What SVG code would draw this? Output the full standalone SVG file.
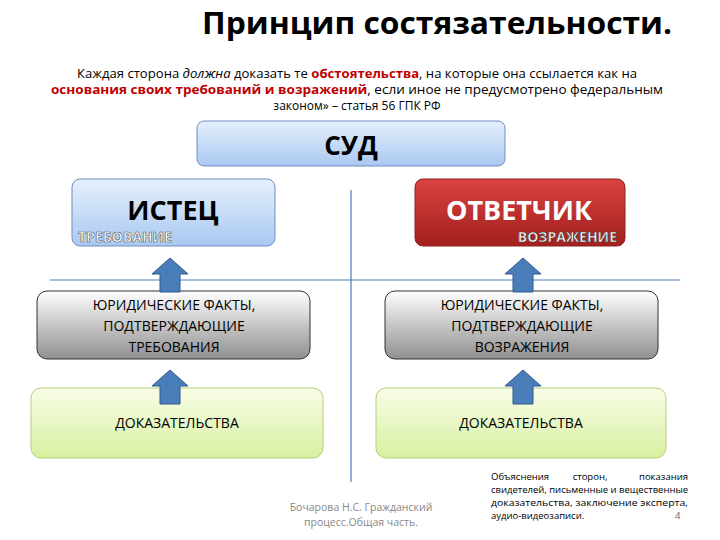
<svg xmlns="http://www.w3.org/2000/svg" width="720" height="540" viewBox="0 0 720 540">
<style>
text{font-family:"Open Sans","Noto Sans","Liberation Sans",sans-serif;fill:#000}
.box{font-size:14px;text-anchor:middle}
.red{fill:#c00000;font-weight:bold}
.ln{stroke:#4a7ebb;stroke-width:1.2}
.arr{fill:#4a7ebb;stroke:#2f5a8f;stroke-width:1}
</style>
<defs>
<linearGradient id="gb" x1="0" y1="0" x2="0" y2="1"><stop offset="0" stop-color="#e6f0fc"/><stop offset="1" stop-color="#a9c8f1"/></linearGradient>
<linearGradient id="gr" x1="0" y1="0" x2="0" y2="1"><stop offset="0" stop-color="#d9423f"/><stop offset="1" stop-color="#a1201e"/></linearGradient>
<linearGradient id="gg" x1="0" y1="0" x2="0" y2="1"><stop offset="0" stop-color="#ffffff"/><stop offset="1" stop-color="#8f8f8f"/></linearGradient>
<linearGradient id="gy" x1="0" y1="0" x2="0" y2="1"><stop offset="0" stop-color="#f8fde8"/><stop offset="1" stop-color="#d8f0a0"/></linearGradient>
<path id="up" d="M-10 0 V-18 H-18 L0 -34 L18 -18 H10 V0 Z"/>
</defs>
<text x="437" y="34" font-size="30" font-weight="bold" text-anchor="middle" textLength="470" lengthAdjust="spacingAndGlyphs">Принцип состязательности.</text>
<text x="357" y="78" font-size="12" text-anchor="middle" textLength="560" lengthAdjust="spacingAndGlyphs">Каждая сторона <tspan font-style="italic">должна</tspan> доказать те <tspan class="red">обстоятельства</tspan>, на которые она ссылается как на</text>
<text x="357" y="94" font-size="12" text-anchor="middle" textLength="612" lengthAdjust="spacingAndGlyphs"><tspan class="red">основания своих требований и возражений</tspan>, если иное не предусмотрено федеральным</text>
<text x="357" y="110" font-size="12" text-anchor="middle">законом» – статья 56 ГПК РФ</text>
<g id="connectors">
<line class="ln" x1="351" y1="190" x2="351" y2="482"/>
<line class="ln" x1="50" y1="280" x2="680" y2="280"/>
</g>
<g id="sud"><rect x="197" y="121" width="308" height="45" rx="7" fill="url(#gb)" stroke="#6f8fbf"/><text x="351" y="155" font-size="26" font-weight="bold" text-anchor="middle">СУД</text></g>
<g id="istec"><rect x="72" y="179" width="203" height="67" rx="8" fill="url(#gb)" stroke="#6f8fbf"/><text x="173" y="220" font-size="27" font-weight="bold" text-anchor="middle">ИСТЕЦ</text><text x="78" y="242" font-size="14" style="fill:#fff" stroke="#555" stroke-width="0.6" font-weight="bold">ТРЕБОВАНИЕ</text></g>
<g id="otv"><rect x="415" y="179" width="210" height="67" rx="8" fill="url(#gr)" stroke="#902020"/><text x="519" y="220" font-size="27" font-weight="bold" text-anchor="middle" style="fill:#fff">ОТВЕТЧИК</text><text x="617" y="242" font-size="14" text-anchor="end" style="fill:#fff" stroke="#444" stroke-width="0.6" font-weight="bold">ВОЗРАЖЕНИЕ</text></g>
<g id="fact1"><rect x="37" y="291" width="273" height="68" rx="10" fill="url(#gg)" stroke="#333"/><text class="box" x="174" y="310">ЮРИДИЧЕСКИЕ ФАКТЫ,</text><text class="box" x="174" y="331">ПОДТВЕРЖДАЮЩИЕ</text><text class="box" x="174" y="352">ТРЕБОВАНИЯ</text></g>
<g id="fact2"><rect x="385" y="291" width="273" height="68" rx="10" fill="url(#gg)" stroke="#333"/><text class="box" x="522" y="310">ЮРИДИЧЕСКИЕ ФАКТЫ,</text><text class="box" x="522" y="331">ПОДТВЕРЖДАЮЩИЕ</text><text class="box" x="522" y="352">ВОЗРАЖЕНИЯ</text></g>
<g id="dok1"><rect x="31" y="388" width="292" height="70" rx="10" fill="url(#gy)" stroke="#b5cf7a"/><text class="box" x="177" y="428">ДОКАЗАТЕЛЬСТВА</text></g>
<g id="dok2"><rect x="376" y="388" width="290" height="70" rx="10" fill="url(#gy)" stroke="#b5cf7a"/><text class="box" x="521" y="428">ДОКАЗАТЕЛЬСТВА</text></g>
<g id="arrows">
<use href="#up" class="arr" transform="translate(170,292)"/>
<use href="#up" class="arr" transform="translate(523,292)"/>
<use href="#up" class="arr" transform="translate(170,404)"/>
<use href="#up" class="arr" transform="translate(523,404)"/>
</g>
<text x="361" y="511" font-size="10.5" text-anchor="middle" style="fill:#888">Бочарова Н.С. Гражданский</text>
<text x="361" y="526" font-size="10.5" text-anchor="middle" style="fill:#888">процесс.Общая часть.</text>
<g font-size="9.5">
<text x="491" y="480">Объяснения</text>
<text x="590" y="480" text-anchor="middle">сторон,</text>
<text x="688" y="480" text-anchor="end">показания</text>
<text x="491" y="493" textLength="197" lengthAdjust="spacingAndGlyphs">свидетелей, письменные и вещественные</text>
<text x="491" y="506" textLength="197" lengthAdjust="spacingAndGlyphs">доказательства, заключение эксперта,</text>
<text x="491" y="519">аудио-видеозаписи.</text>
<text x="675" y="519" style="fill:#666">4</text>
</g>
</svg>
